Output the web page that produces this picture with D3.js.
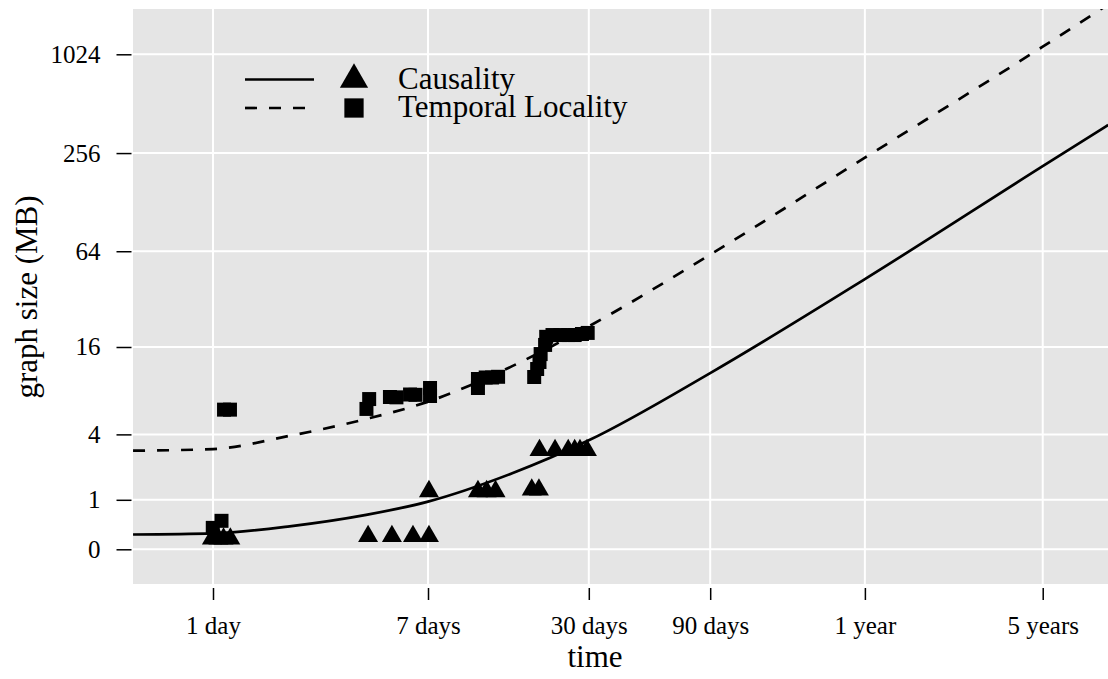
<!DOCTYPE html>
<html>
<head>
<meta charset="utf-8">
<script src="https://cdn.jsdelivr.net/npm/d3@7"></script>
<style>
  body { margin: 0; background: #ffffff; }
  text { font-family: "Liberation Serif", "DejaVu Serif", serif; fill: #000000; }
</style>
</head>
<body>
<svg id="chart" width="1108" height="679"></svg>
<script>
// values (time in days, size in MB)
var xTickDays = [1, 7, 30, 90, 365, 1825];
var xTickLabels = ["1 day", "7 days", "30 days", "90 days", "1 year", "5 years"];
var yTickValues = [0, 1, 4, 16, 64, 256, 1024];

var causalityDays = [0.99, 1.05, 1.10, 1.17, 4.07, 5.05, 6.11, 7.06, 7.06, 11.0, 11.9, 12.9,
    17.9, 19.1, 19.2, 22.1, 24.9, 26.4, 27.7, 29.5];
var causalityMB = [0.16, 0.16, 0.16, 0.16, 0.2, 0.2, 0.2, 0.2, 1.25, 1.25, 1.25, 1.25,
    1.3, 1.3, 3.0, 3.0, 3.0, 3.0, 3.0, 3.0];

var temporalDays = [1.105, 1.166, 0.998, 1.08, 4.01, 4.11, 4.96, 5.26, 5.95, 6.25, 7.13, 7.13,
    11.0, 11.0, 11.8, 12.5, 13.2, 18.3, 18.8, 19.2, 19.4, 20.2, 20.4, 21.6, 23.2, 24.9,
    26.4, 28.2, 29.7];
var temporalMB = [6.07, 6.07, 0.35, 0.49, 6.14, 7.2, 7.44, 7.4, 7.74, 7.7, 7.56, 8.57,
    8.57, 9.86, 10.09, 10.09, 10.2, 10.17, 11.49, 12.78, 14.4, 16.5, 18.6, 19.1, 19.1, 19.1,
    19.1, 19.4, 19.7];

// fitted trend lines, read at a few times along each curve
var fitDays = [0.485, 1, 2, 4, 7, 15, 30, 90, 365, 1825, 3300];
var causalityFit = [0.23, 0.25, 0.38, 0.62, 0.95, 1.9, 3.6, 10.8, 43, 213, 380];
var temporalFit = [2.98, 3.07, 3.9, 5.2, 6.9, 12, 21.7, 61, 240, 1140, 2060];

var svg = d3.select("#chart");

var panel = { left: 133, right: 1108, top: 9, bottom: 584 };

var x = d3.scaleLog()
    .domain([0.4848, 3295])
    .range([panel.left, panel.right]);

var y = d3.scaleSymlog()
    .constant(1)
    .domain([0, 1932])
    .range([549.3, panel.top]);

// Title Panel
// grey background with white grid lines
function drawPanel() {

    svg.append("rect")
        .attr("x", panel.left)
        .attr("y", panel.top)
        .attr("width", panel.right - panel.left)
        .attr("height", panel.bottom - panel.top)
        .style("fill", "#e5e5e5");

    svg.selectAll(".hgrid")
        .data(yTickValues)
        .enter()
        .append("line")
        .attr("x1", panel.left)
        .attr("x2", panel.right)
        .attr("y1", function (d) { return y(d); })
        .attr("y2", function (d) { return y(d); })
        .style("stroke", "#ffffff")
        .style("stroke-width", 2);

    svg.selectAll(".vgrid")
        .data(xTickDays)
        .enter()
        .append("line")
        .attr("x1", function (d) { return x(d); })
        .attr("x2", function (d) { return x(d); })
        .attr("y1", panel.top)
        .attr("y2", panel.bottom)
        .style("stroke", "#ffffff")
        .style("stroke-width", 2);

    svg.append("clipPath")
        .attr("id", "clip")
        .append("rect")
        .attr("x", panel.left)
        .attr("y", panel.top)
        .attr("width", panel.right - panel.left)
        .attr("height", panel.bottom - panel.top);
}

// Title Axes
function drawAxes() {

    var xAxis = d3.axisBottom(x)
        .tickValues(xTickDays)
        .tickFormat(function (d, i) { return xTickLabels[i]; })
        .tickSize(12)
        .tickPadding(16);

    var gx = svg.append("g")
        .attr("transform", "translate(0," + (panel.bottom + 4) + ")")
        .call(xAxis);
    gx.select(".domain").remove();
    gx.selectAll("line").style("stroke", "#000").style("stroke-width", 1.5);
    gx.selectAll("text")
        .style("font-size", "25px")
        .style("font-family", "Liberation Serif");

    var yAxis = d3.axisLeft(y)
        .tickValues(yTickValues)
        .tickFormat(d3.format("d"))
        .tickSize(15)
        .tickPadding(16);

    var gy = svg.append("g")
        .attr("transform", "translate(" + (panel.left - 1.5) + ",0)")
        .call(yAxis);
    gy.select(".domain").remove();
    gy.selectAll("line").style("stroke", "#000").style("stroke-width", 1.5);
    gy.selectAll("text")
        .style("font-size", "25px")
        .style("font-family", "Liberation Serif");

    svg.append("text")
        .attr("x", 595)
        .attr("y", 667)
        .attr("text-anchor", "middle")
        .style("font-size", "31px")
        .text("time");

    svg.append("text")
        .attr("transform", "translate(37," + 297 + ") rotate(-90)")
        .attr("text-anchor", "middle")
        .style("font-size", "31px")
        .text("graph size (MB)");
}

// Title Trend Lines
function drawLine(values, dash) {

    var line = d3.line()
        .x(function (d, i) { return x(fitDays[i]); })
        .y(function (d) { return y(d); })
        .curve(d3.curveMonotoneX);

    svg.append("path")
        .datum(values)
        .attr("clip-path", "url(#clip)")
        .attr("d", line)
        .style("fill", "none")
        .style("stroke", "#000")
        .style("stroke-width", 2.7)
        .style("stroke-dasharray", dash);
}

// Title Points
function drawPoints(days, mb, symbolType, size) {

    var sym = d3.symbol().type(symbolType).size(size);

    svg.append("g")
        .selectAll("path")
        .data(days)
        .enter()
        .append("path")
        .attr("transform", function (d, i) {
            return "translate(" + x(d) + "," + y(mb[i]) + ")";
        })
        .attr("d", sym)
        .style("fill", "#000");
}

// Title Legend
function drawLegend() {

    var rows = [
        { label: "Causality", dash: null, symbol: d3.symbolTriangle, size: 345, cy: 79.5 },
        { label: "Temporal Locality", dash: "12,12", symbol: d3.symbolSquare, size: 372, cy: 108 }
    ];

    rows.forEach(function (r) {
        svg.append("line")
            .attr("x1", 245)
            .attr("x2", 314)
            .attr("y1", r.cy)
            .attr("y2", r.cy)
            .style("stroke", "#000")
            .style("stroke-width", 2.7)
            .style("stroke-dasharray", r.dash);

        svg.append("path")
            .attr("transform", "translate(354," + r.cy + ")")
            .attr("d", d3.symbol().type(r.symbol).size(r.size))
            .style("fill", "#000");

        svg.append("text")
            .attr("x", 398)
            .attr("y", r.cy + 9)
            .style("font-size", "31px")
            .text(r.label);
    });
}

drawPanel();
drawAxes();
drawLine(causalityFit, null);
drawLine(temporalFit, "12,12");
drawPoints(temporalDays, temporalMB, d3.symbolSquare, 196);
drawPoints(causalityDays, causalityMB, d3.symbolTriangle, 173);
drawLegend();
</script>
</body>
</html>
